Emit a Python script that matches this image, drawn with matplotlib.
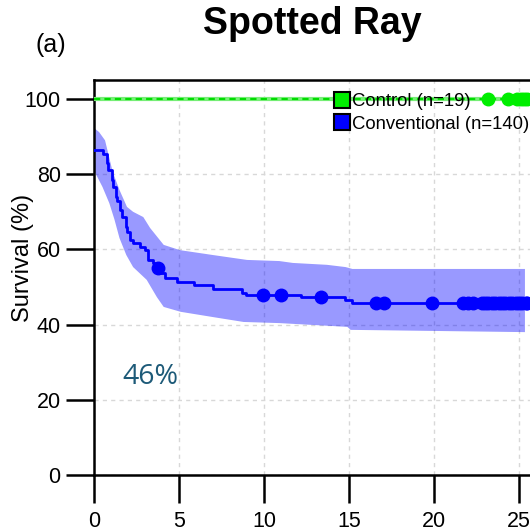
import matplotlib
matplotlib.use("Agg")
import matplotlib.pyplot as plt
from matplotlib.lines import Line2D
import numpy as np

plt.rcParams['font.family'] = ['Liberation Sans', 'DejaVu Sans']

# Conventional group: Kaplan-Meier steps (time in months, survival %)
conv_time = [0, 0.5, 0.75, 0.8, 1.05, 1.1, 1.3, 1.35, 1.55, 1.65, 1.9, 1.95, 2.1, 2.3,
             2.7, 3.0, 3.2, 3.45, 3.6, 3.9, 4.2, 4.9, 5.9, 7.0, 8.7, 8.95, 12.2, 14.76,
             15.2, 25.6]
conv_surv = [86.5, 85.5, 83, 81, 78.5, 76.5, 74, 73, 70.5, 68.5, 66, 64.5, 62.5, 61.7,
             60.6, 59.8, 57.2, 56.4, 55.1, 53.7, 52.4, 51.3, 50.5, 49.5, 48.4, 47.9, 47.3,
             46.5, 45.7, 45.7]
conv_cens_t = [3.76, 9.94, 11.0, 13.35, 16.6, 17.06, 19.9, 21.7, 22.0, 22.3, 22.8, 23.0,
               23.2, 23.4, 23.6, 23.8, 24.0, 24.2, 24.4, 24.6, 24.8, 25.0, 25.2, 25.4, 25.5]

# confidence band
up_t = [0, 0.3, 0.65, 1.1, 1.5, 1.94, 2.3, 2.9, 3.3, 4.1, 5.06, 7.0, 9.0, 10.9, 11.7,
        13.7, 14.8, 15.2, 25.35]
up_v = [92.3, 91.2, 89, 80.6, 75.8, 71.3, 70, 68.6, 65.7, 61.2, 59.8, 58.5, 57.2, 56.9,
        56.4, 55.9, 55.3, 54.8, 54.8]
lo_t = [0, 0.5, 0.9, 1.2, 1.5, 1.9, 2.3, 3.1, 3.7, 4.1, 5.1, 7.0, 8.8, 10.9, 14.9, 15.1,
        25.35]
lo_v = [81, 76.6, 72.3, 68, 63, 58.5, 55.3, 51.9, 47.3, 44.7, 43.4, 42, 40.7, 40.4, 39.4,
        38.6, 38]

# Control group
ctrl_time = [0, 25.6]
ctrl_surv = [100, 100]
ctrl_cens_t = [23.2, 24.35, 24.9, 25.1, 25.3, 25.5]

xticks = [0, 5, 10, 15, 20, 25]
yticks = [0, 20, 40, 60, 80, 100]

fig = plt.figure(figsize=(5.3, 5.32), dpi=100)
ax = fig.add_axes([94/530, 57/532, 436/530, 395/532])
ax.set_xlim(0, 436/17)
ax.set_ylim(0, 395/3.76)

ax.grid(True, color='#d8d8d8', linestyle=(0, (3, 3)), linewidth=1)
ax.set_axisbelow(True)

ax.fill(np.r_[up_t, lo_t[::-1]], np.r_[up_v, lo_v[::-1]], color='#0000ff', alpha=0.4,
        linewidth=0, zorder=2)
ax.step(conv_time, conv_surv, where='post', color='#0000ff', lw=2, zorder=3)
# censored marks sit on the curve level at that time
cens_y = [conv_surv[np.searchsorted(conv_time, t, side='right') - 1] for t in conv_cens_t]
ax.plot(conv_cens_t, cens_y, 'o', color='#0000ff', ms=9, zorder=4, clip_on=False)

ax.plot(ctrl_time, ctrl_surv, color='#77ee77', lw=3, zorder=3)
ax.plot(ctrl_time, ctrl_surv, color='#00dd00', lw=1.5, linestyle=(0, (3, 2)), zorder=3)
ax.plot(ctrl_cens_t, [100] * len(ctrl_cens_t), 'o', color='#00ee00', ms=9, zorder=4,
        clip_on=False)

ax.set_xticks(xticks)
ax.set_yticks(yticks)
ax.tick_params(axis='both', direction='out', length=20, width=1.8, labelsize=15.5,
               colors='black')
ax.tick_params(axis='x', pad=6)
ax.tick_params(axis='y', pad=4)
for s in ['left', 'bottom', 'top']:
    ax.spines[s].set_linewidth(1.8)
ax.spines['right'].set_visible(False)

handles = [Line2D([], [], marker='s', ls='none', ms=11, mfc='#00ee00', mec='black', mew=1.5),
           Line2D([], [], marker='s', ls='none', ms=11, mfc='#0000ff', mec='black', mew=1.5)]
ax.legend(handles, ['Control (n=19)', 'Conventional (n=140)'], loc='upper left',
          bbox_to_anchor=(240/436, 1 - 13/395), frameon=False, fontsize=13.3,
          handletextpad=0.05, handlelength=0.9, borderaxespad=0, borderpad=0,
          labelspacing=0.32)

ax.text(3.3, 26, '46%', fontsize=20.5, color='#1d5a78', ha='center', va='center',
        family=['Open Sans', 'DejaVu Sans'])

fig.text(23/530, 1 - 258/532, 'Survival (%)', rotation=90, fontsize=17, ha='center',
         va='center')
fig.text(312/530, 1 - 24/532, 'Spotted Ray', fontsize=27, fontweight='bold',
         ha='center', va='center')
fig.text(51/530, 1 - 45/532, '(a)', fontsize=18, ha='center', va='center')

fig.savefig('out.png', dpi=100)
